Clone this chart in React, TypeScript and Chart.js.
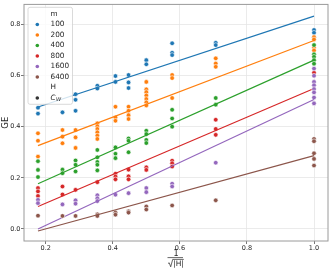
import React, { useEffect, useRef } from "react";
import { Chart, registerables } from "chart.js";

Chart.register(...registerables);

// x = 1/sqrt(|H|)
const xPositions = [0.177, 0.25, 0.289, 0.354, 0.408, 0.447, 0.5, 0.577, 0.707, 1.0];
const mLabels = ["100", "200", "400", "800", "1600", "6400"];
const colors = ["#1f77b4", "#ff7f0e", "#2ca02c", "#d62728", "#9467bd", "#8c564b"];

// GE values per x column for each m
const ge100 = [
  [0.474, 0.451], [0.456], [0.527, 0.505, 0.462], [0.56, 0.549], [0.598, 0.575],
  [0.602, 0.573, 0.551], [0.66, 0.644], [0.726, 0.689, 0.68], [0.728, 0.719], [0.778, 0.767],
];
const ge200 = [
  [0.374, 0.345, 0.283], [0.387, 0.361, 0.335], [0.387, 0.358, 0.317],
  [0.413, 0.402, 0.391, 0.378, 0.365, 0.352], [0.478, 0.436, 0.423], [0.478, 0.462, 0.445, 0.43],
  [0.575, 0.546, 0.535, 0.522, 0.508, 0.495, 0.483], [0.602, 0.59, 0.512], [0.667, 0.647, 0.634],
  [0.75, 0.741, 0.709, 0.698],
];
const ge400 = [
  [0.265, 0.231, 0.203], [0.232, 0.218], [0.268, 0.251, 0.225], [0.309, 0.28, 0.262, 0.251, 0.229],
  [0.319, 0.294, 0.277], [0.354, 0.345, 0.3], [0.384, 0.371, 0.348, 0.336], [0.466, 0.432, 0.4],
  [0.512, 0.486], [0.719, 0.683, 0.673, 0.66, 0.646],
];
const ge800 = [
  [0.16, 0.147, 0.129], [0.166, 0.135], [0.153], [0.183], [0.216, 0.205, 0.194],
  [0.232, 0.206, 0.194], [0.241, 0.231], [0.267, 0.257, 0.244], [0.427, 0.391, 0.368], [0.611],
];
const ge1600 = [
  [0.114, 0.101], [0.096], [0.112, 0.099], [0.132, 0.12, 0.109], [0.134], [0.14],
  [0.16, 0.144], [0.177, 0.166], [0.259], [0.627, 0.599, 0.575, 0.562, 0.547, 0.534, 0.514, 0.491],
];
const ge6400 = [
  [0.052], [0.051], [0.051], [0.057, 0.051], [0.064, 0.056], [0.069, 0.064], [0.088, 0.076],
  [0.092], [0.112], [0.352, 0.343, 0.296, 0.274, 0.248],
];
const allSeries = [ge100, ge200, ge400, ge800, ge1600, ge6400];

// fitted lines (value at x=0.177 and x=1.0)
const fitX = [0.177, 1.0];
const fitStart = [0.477, 0.326, 0.177, 0.088, 0.0, -0.008];
const fitEnd = [0.832, 0.737, 0.66, 0.549, 0.506, 0.287];

const xTicks = [0.2, 0.4, 0.6, 0.8, 1.0];
const yTicks = [0.0, 0.2, 0.4, 0.6, 0.8];
const xRange = [0.1353, 1.0417];
const yRange = [-0.047, 0.878];

const FONT = '"DejaVu Sans"';
const TEXT = "#262626";

const framePlugin = {
  id: "frame",
  afterDatasetsDraw(chart: any) {
    const { ctx, chartArea: a } = chart;
    ctx.save();
    ctx.strokeStyle = "#9a9a9a";
    ctx.lineWidth = 1;
    ctx.strokeRect(a.left, a.top, a.right - a.left, a.bottom - a.top);
    ctx.restore();
  },
};

const extrasPlugin = {
  id: "extras",
  afterDraw(chart: any) {
    const { ctx, chartArea: a } = chart;
    ctx.save();
    // x axis title: 1 / sqrt(|H|)
    const cx = (a.left + a.right) / 2;
    ctx.fillStyle = TEXT;
    ctx.strokeStyle = TEXT;
    ctx.textAlign = "center";
    ctx.textBaseline = "alphabetic";
    ctx.font = `8px ${FONT}`;
    ctx.fillText("1", cx, 256);
    ctx.lineWidth = 0.7;
    ctx.beginPath();
    ctx.moveTo(cx - 8.5, 257.6);
    ctx.lineTo(cx + 7, 257.6);
    ctx.stroke();
    ctx.font = `7.5px ${FONT}`;
    ctx.textBaseline = "middle";
    ctx.fillText("|H|", cx + 2.5, 263.6);
    ctx.beginPath();
    ctx.moveTo(cx - 8, 263.5);
    ctx.lineTo(cx - 6.8, 262.8);
    ctx.lineTo(cx - 5.3, 266.8);
    ctx.lineTo(cx - 3.3, 259.4);
    ctx.lineTo(cx + 7.8, 259.4);
    ctx.stroke();

    // legend
    const bx = 28, by = 7.3, bw = 44.5, bh = 97;
    ctx.beginPath();
    const r = 2;
    ctx.moveTo(bx + r, by);
    ctx.lineTo(bx + bw - r, by);
    ctx.quadraticCurveTo(bx + bw, by, bx + bw, by + r);
    ctx.lineTo(bx + bw, by + bh - r);
    ctx.quadraticCurveTo(bx + bw, by + bh, bx + bw - r, by + bh);
    ctx.lineTo(bx + r, by + bh);
    ctx.quadraticCurveTo(bx, by + bh, bx, by + bh - r);
    ctx.lineTo(bx, by + r);
    ctx.quadraticCurveTo(bx, by, bx + r, by);
    ctx.closePath();
    ctx.fillStyle = "rgba(255,255,255,0.8)";
    ctx.fill();
    ctx.strokeStyle = "#d0d0d0";
    ctx.lineWidth = 0.8;
    ctx.stroke();

    const rows: { label: string; color: string | null; sub?: string }[] = [
      { label: "m", color: null },
      ...mLabels.map((l, i) => ({ label: l, color: colors[i] })),
      { label: "H", color: null },
      { label: "C", color: "#333333", sub: "W" },
    ];
    ctx.textAlign = "left";
    ctx.textBaseline = "middle";
    rows.forEach((row, i) => {
      const y = 14 + i * 10.5;
      if (row.color) {
        ctx.beginPath();
        ctx.arc(37.3, y, 1.8, 0, Math.PI * 2);
        ctx.fillStyle = row.color;
        ctx.fill();
      }
      ctx.fillStyle = TEXT;
      if (row.sub) {
        ctx.font = `italic 7.3px ${FONT}`;
        ctx.fillText(row.label, 50.5, y);
        const w = ctx.measureText(row.label).width;
        ctx.font = `italic 5.2px ${FONT}`;
        ctx.fillText(row.sub, 50.5 + w + 0.3, y + 2);
      } else {
        ctx.font = `7.3px ${FONT}`;
        ctx.fillText(row.label, 50.5, y);
      }
    });
    ctx.restore();
  },
};

export default function App() {
  const ref = useRef<HTMLCanvasElement | null>(null);
  useEffect(() => {
    if (!ref.current) return;
    const datasets: any[] = [];
    for (let k = allSeries.length - 1; k >= 0; k--) {
      datasets.push({
        label: `fit ${mLabels[k]}`,
        data: fitX.map((x, j) => ({ x, y: j === 0 ? fitStart[k] : fitEnd[k] })),
        showLine: true,
        borderColor: colors[k],
        borderWidth: 1.2,
        pointRadius: 0,
        fill: false,
      });
      const pts: { x: number; y: number }[] = [];
      allSeries[k].forEach((col, i) => col.forEach((v) => pts.push({ x: xPositions[i], y: v })));
      datasets.push({
        label: mLabels[k],
        data: pts,
        backgroundColor: colors[k],
        borderColor: "#ffffff",
        borderWidth: 0.6,
        pointRadius: 2.3,
        showLine: false,
      });
    }
    const tickFont = { family: FONT, size: 6.5 };
    const chart = new Chart(ref.current, {
      type: "scatter",
      data: { datasets },
      plugins: [framePlugin, extrasPlugin],
      options: {
        animation: false,
        responsive: false,
        maintainAspectRatio: false,
        events: [],
        layout: { padding: { left: 0, right: 4, top: 3, bottom: 0 }, autoPadding: false },
        plugins: { legend: { display: false }, tooltip: { enabled: false }, title: { display: false } },
        scales: {
          x: {
            type: "linear",
            min: xRange[0],
            max: xRange[1],
            afterBuildTicks: (s: any) => { s.ticks = xTicks.map((v) => ({ value: v })); },
            afterFit: (s: any) => { s.height = 29; },
            ticks: {
              font: tickFont, color: TEXT, padding: 0, autoSkip: false, maxRotation: 0,
              callback: (v: any) => Number(v).toFixed(1),
            },
            grid: { color: "#e6e6e6", lineWidth: 0.8, tickColor: "#555", tickLength: 3, tickWidth: 0.8 },
            border: { display: false },
          },
          y: {
            type: "linear",
            min: yRange[0],
            max: yRange[1],
            afterBuildTicks: (s: any) => { s.ticks = yTicks.map((v) => ({ value: v })); },
            afterFit: (s: any) => { s.width = 24; },
            ticks: {
              font: tickFont, color: TEXT, padding: 0.5, autoSkip: false,
              callback: (v: any) => Number(v).toFixed(1),
            },
            title: { display: true, text: "GE", font: { family: FONT, size: 8.5 }, color: TEXT, padding: { top: 0.5, bottom: 0 } },
            grid: { color: "#e6e6e6", lineWidth: 0.8, tickColor: "#555", tickLength: 3, tickWidth: 0.8 },
            border: { display: false },
          },
        },
      } as any,
    });
    return () => chart.destroy();
  }, []);
  return (
    <div style={{ position: "fixed", left: 0, top: 0, width: 332, height: 270, background: "#fff" }}>
      <canvas ref={ref} width={332} height={270} style={{ display: "block" }} />
    </div>
  );
}
